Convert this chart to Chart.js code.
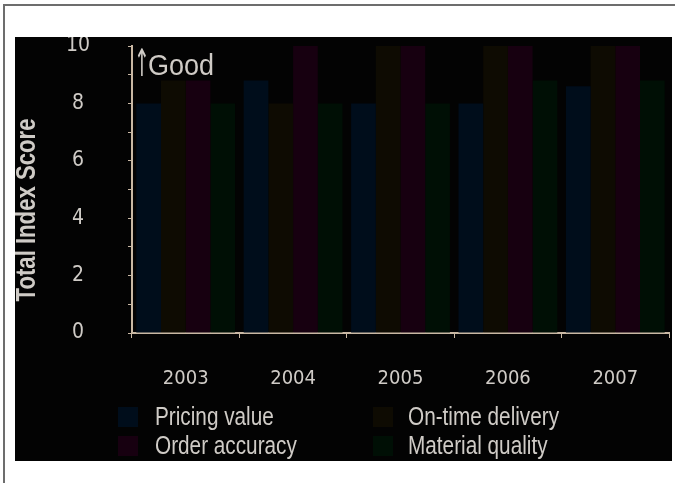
<!DOCTYPE html>
<html lang="en">
<head>
    <meta charset="utf-8">
    <script src="https://cdn.jsdelivr.net/npm/chart.js@4.4.1/dist/chart.umd.min.js"></script>
    <title>Total Index Score</title>
    <style>
        html, body { margin: 0; padding: 0; background: #fff; width: 675px; height: 483px; overflow: hidden; }
        #frame { position: absolute; left: 3px; top: 4px; width: 700px; height: 500px; border: 2px solid #6d6d6d; }
        #box { position: absolute; left: 15px; top: 37px; width: 657px; height: 424px; background: #030303; }
    </style>
</head>
<body>
    <div id="frame"></div>
    <div id="box"><canvas id="chart"></canvas></div>
    <script type="text/javascript">
        // 年ごとのスコア
        var years = ['2003', '2004', '2005', '2006', '2007'];
        var pricingValue    = [8, 8.8, 8, 8, 8.6];
        var onTimeDelivery  = [8.8, 8, 10, 10, 10];
        var orderAccuracy   = [8.8, 10, 10, 10, 10];
        var materialQuality = [8, 8, 8, 8.8, 8.8];
        var yTickLabels = ['0', '2', '4', '6', '8', '10'];

        var TICKFONT = "'DejaVu Sans Condensed', sans-serif";
        var DRAWFONT = "'Liberation Sans', Arial, sans-serif";
        var TEXT = '#cfcbc6';
        var AXIS = '#c9b8a4';

        // 細長い文字 (Arial Narrow 風に横を詰める)
        function narrowText(ctx, text, x, y, font, sx, rot) {
            ctx.save();
            ctx.translate(x, y);
            if (rot) ctx.rotate(rot);
            ctx.scale(sx, 1);
            ctx.font = font;
            ctx.fillText(text, 0, 0);
            ctx.restore();
        }

        // 凡例・軸タイトル・注記は手描き
        var extras = {
            id: 'extras',
            afterDraw: function (chart) {
                var ctx = chart.ctx;
                ctx.save();
                ctx.fillStyle = TEXT;
                // Y軸タイトル
                ctx.textAlign = 'center';
                ctx.textBaseline = 'middle';
                narrowText(ctx, 'Total Index Score', 13, 173, 'bold 27px ' + DRAWFONT, 0.82, -Math.PI / 2);
                // ↑Good
                ctx.textAlign = 'left';
                ctx.textBaseline = 'alphabetic';
                narrowText(ctx, '\u2191', chart.chartArea.left + 2, 39, '38px ' + TICKFONT, 0.55);
                narrowText(ctx, 'Good', chart.chartArea.left + 16, 38, '30px ' + DRAWFONT, 0.9);
                // 凡例 (2列)
                var cols = [[103, 140], [358, 393]];
                var rows = [380, 409];
                ctx.textBaseline = 'middle';
                chart.data.datasets.forEach(function (ds, i) {
                    var c = cols[i % 2], r = rows[Math.floor(i / 2)];
                    ctx.fillStyle = ds.backgroundColor;
                    ctx.fillRect(c[0], r - 10, 20, 20);
                    ctx.fillStyle = TEXT;
                    narrowText(ctx, ds.label, c[1], r + 1, '25px ' + DRAWFONT, 0.83);
                });
                ctx.restore();
            }
        };

        var ctx = document.getElementById('chart');
        var myChart = new Chart(ctx, {
            type: 'bar',
            data: {
                labels: years,
                datasets: [
                    { label: 'Pricing value',    data: pricingValue,    backgroundColor: '#000d1b' },
                    { label: 'On-time delivery', data: onTimeDelivery,  backgroundColor: '#0e0b02' },
                    { label: 'Order accuracy',   data: orderAccuracy,   backgroundColor: '#170010' },
                    { label: 'Material quality', data: materialQuality, backgroundColor: '#000f05' },
                ],
            },
            options: {
                responsive: true,
                maintainAspectRatio: false,
                animation: false,
                layout: { padding: { top: 9, right: 3, left: 0, bottom: 0 } },
                datasets: { bar: { barPercentage: 1, categoryPercentage: 0.92 } },
                plugins: {
                    legend: { display: false },
                    tooltip: { enabled: false },
                },
                scales: {
                    x: {
                        afterFit: function (s) { s.height = 128; },
                        grid: { drawOnChartArea: false, drawTicks: true, tickLength: 5, tickColor: AXIS, offset: true },
                        border: { color: AXIS, width: 2 },
                        ticks: { color: TEXT, font: { family: TICKFONT, size: 20 }, padding: 29 },
                    },
                    y: {
                        min: 0, max: 10,
                        // ラベル用の余白が上に付かないようにする
                        afterFit: function (s) { s.width = 117; s.paddingTop = 0; s.paddingBottom = 0; },
                        grid: { drawOnChartArea: false, drawTicks: true, tickLength: 4, tickColor: AXIS },
                        border: { color: AXIS, width: 2 },
                        ticks: {
                            stepSize: 1,
                            color: TEXT,
                            font: { family: TICKFONT, size: 21 },
                            crossAlign: 'center',
                            padding: 38,
                            callback: function (v) {
                                return v % 2 === 0 ? yTickLabels[v / 2] : '';
                            },
                        },
                    },
                },
            },
            plugins: [extras],
        });
    </script>
</body>
</html>
